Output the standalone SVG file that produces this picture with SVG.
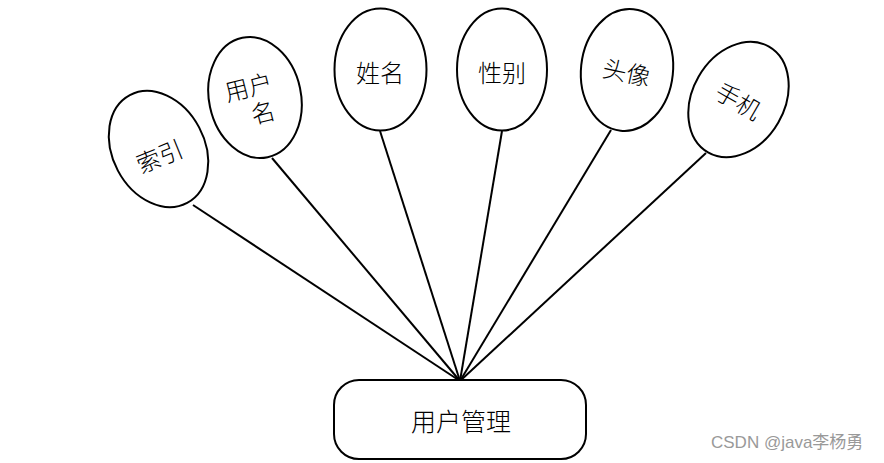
<svg xmlns="http://www.w3.org/2000/svg" width="884" height="463" viewBox="0 0 884 463">
<style>
.attr{fill:#fff;stroke:#000;stroke-width:2}
.lbl{font-family:"Noto Sans CJK SC","Noto Sans",sans-serif;font-size:24px;font-weight:300;fill:#000;text-anchor:middle;dominant-baseline:central}
.conn line{stroke:#000;stroke-width:2}
.wm{font-family:"Liberation Sans","Noto Sans CJK SC",sans-serif;font-size:17px;fill:#999}
</style>
<rect width="884" height="463" fill="#fff"/>
<g id="connectors" class="conn">
<line x1="193" y1="205" x2="460" y2="381"/>
<line x1="272" y1="158" x2="460" y2="381"/>
<line x1="380" y1="131" x2="460" y2="381"/>
<line x1="502" y1="131" x2="460" y2="381"/>
<line x1="611" y1="130" x2="460" y2="381"/>
<line x1="706" y1="153" x2="460" y2="381"/>
</g>
<g id="node-suoyin">
<ellipse class="attr" cx="158.5" cy="149" rx="46" ry="61" transform="rotate(-28 158.5 149)"/>
<text class="lbl" x="159" y="155" transform="rotate(-22 159 155)">索引</text>
</g>
<g id="node-yonghuming">
<ellipse class="attr" cx="255" cy="97.5" rx="46" ry="61" transform="rotate(-12 255 97.5)"/>
<text class="lbl" transform="rotate(-14 255 97)"><tspan x="251" y="84">用户</tspan><tspan x="259" y="112">名</tspan></text>
</g>
<g id="node-xingming">
<ellipse class="attr" cx="380.5" cy="69.5" rx="46" ry="61"/>
<text class="lbl" x="380" y="71">姓名</text>
</g>
<g id="node-xingbie">
<ellipse class="attr" cx="502" cy="69.5" rx="45" ry="61"/>
<text class="lbl" x="502" y="71">性别</text>
</g>
<g id="node-touxiang">
<ellipse class="attr" cx="627" cy="70" rx="46" ry="61" transform="rotate(6 627 70)"/>
<text class="lbl" x="627" y="71" transform="rotate(12 627 71)">头像</text>
</g>
<g id="node-shouji">
<ellipse class="attr" cx="738.5" cy="99.5" rx="46" ry="61" transform="rotate(30 738.5 99.5)"/>
<text class="lbl" x="739" y="100" transform="rotate(30 739 100)">手机</text>
</g>
<g id="node-yonghuguanli">
<rect x="334" y="380" width="252" height="79" rx="25" ry="25" fill="#fff" stroke="#000" stroke-width="2"/>
<text class="lbl" x="461" y="420" style="font-size:25px">用户管理</text>
</g>
<text class="wm" x="711" y="448">CSDN @java李杨勇</text>
</svg>
